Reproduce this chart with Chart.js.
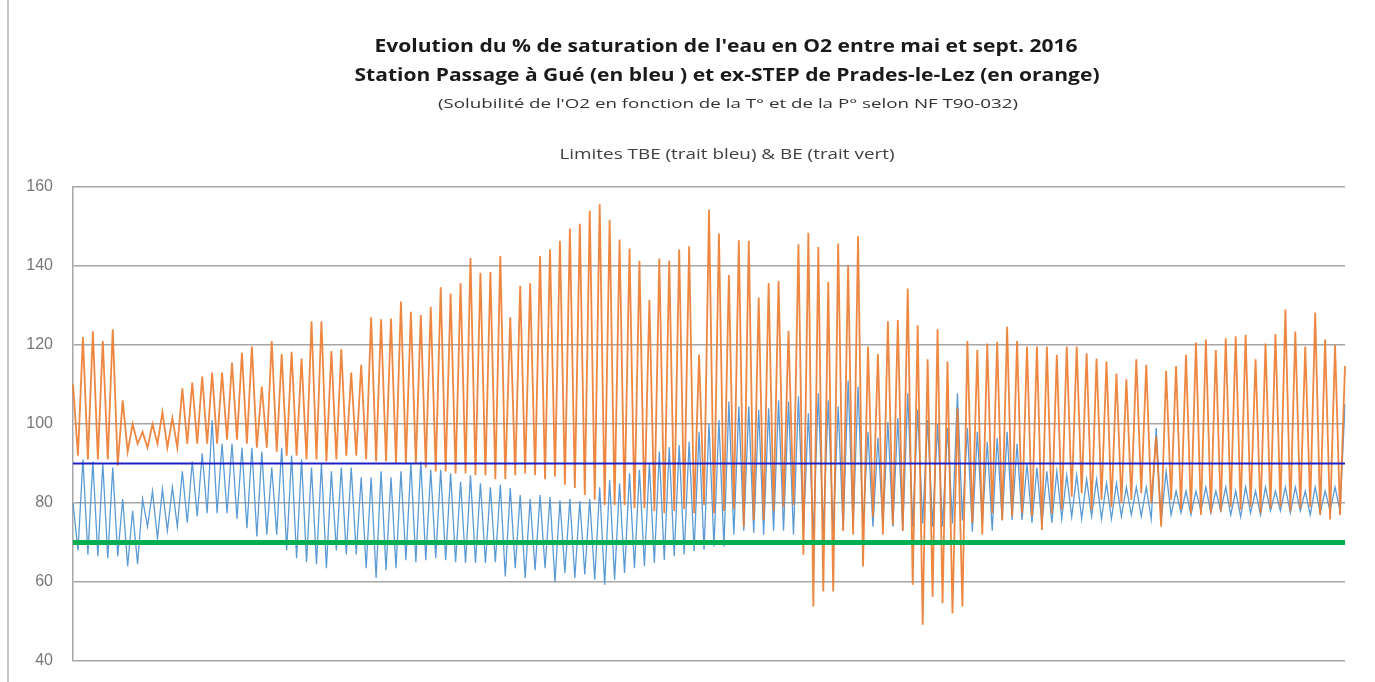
<!DOCTYPE html>
<html lang="fr">
<head>
<meta charset="utf-8">
<title>Saturation O2 - Passage à Gué / Prades-le-Lez</title>
<script src="https://cdn.jsdelivr.net/npm/chart.js@4.4.1/dist/chart.umd.min.js"></script>
<style>
  html, body { margin: 0; padding: 0; background: #fff; }
  #wrap { width: 1375px; height: 682px; position: relative; }
</style>
</head>
<body>
<div id="wrap"><canvas id="myChart1" width="1375" height="682"></canvas></div>
<script>
// valeurs : un creux (nuit) puis un pic (jour) par journée
const titreLignes = [
  'Evolution du % de saturation de l\'eau en O2 entre mai et sept. 2016',
  'Station Passage à Gué (en bleu ) et ex-STEP de Prades-le-Lez (en orange)',
  '(Solubilité de l\'O2 en fonction de la T° et de la P° selon NF T90-032)',
  'Limites TBE (trait bleu) & BE (trait vert)'
];
const yTicks = [40, 60, 80, 100, 120, 140, 160];
const limiteTBE = 90;
const limiteBE = 70;

const orangeDebut = 110;
const orangeCreux = [
  92, 91, 91, 91, 89.5, 93, 95, 94, 95, 94, 94, 95, 95, 95, 95, 96, 96,
  95, 94, 94, 93, 92, 92, 91, 91, 90.5, 91, 92, 92, 91, 90.5, 90.5, 90,
  90, 90, 89, 88, 88, 87.5, 87.5, 87, 87, 86, 86, 87, 87.5, 87, 86,
  86.7, 84.6, 83.8, 82, 80.8, 79.5, 79.5, 79.5, 78.7, 78.7, 77.9, 77.4, 78, 78.5, 77.4, 79.5,
  77.4, 78, 78.5, 74, 75.7, 75.7, 78, 79, 79.5, 66.9, 53.8, 57.6, 57.6, 73, 72,
  63.9, 76.6, 72, 74.5, 73, 59.3, 49.2, 56.3, 54.6, 52, 53.8, 75, 72, 77.4, 75.7, 76.6,
  77.4, 76.6, 73.2, 77.4, 78.3, 81.6, 82.5, 78.3, 80.8, 79, 80, 80.8, 82.5, 80, 74, 80.8,
  78.3, 77.4, 77, 77.4, 77.9, 79, 78.3, 79, 77.4, 78.7, 79, 77.9, 78.7, 79, 77, 75.8, 77
];
const orangePics = [
  122, 123.5, 121, 124, 106, 100, 98, 100, 103, 101.5, 109, 110.5, 112, 113, 113, 115.5, 118,
  119.6, 109.5, 121, 117.7, 118.3, 116.6, 126, 126, 118.5, 119, 113, 115, 127, 126.5, 126.7, 131,
  128.4, 127.6, 129.7, 134.6, 133, 135.6, 142, 138.3, 138.5, 142.5, 127, 135, 135.6, 142.5, 144.2,
  146.4, 149.5, 150.7, 154, 155.6, 151.7, 146.7, 144.4, 141.3, 131.4, 141.9, 141.3, 144.2, 145, 117.5, 154.3,
  148.2, 137.7, 146.5, 146.4, 132, 135.7, 136.2, 123.6, 145.5, 148.4, 144.8, 136, 145.7, 140.2, 147.5,
  119.6, 117.7, 126, 126.3, 134.3, 125, 116.4, 124, 115.8, 104, 121, 118.7, 120.4, 120.8, 124.6, 121,
  119.6, 119.6, 119.6, 117.5, 119.6, 119.6, 117.9, 116.6, 115.8, 112.8, 111.3, 116.4, 115, 96.8, 113.5, 114.7,
  117.5, 120.6, 121.4, 118.7, 121.7, 122.2, 122.6, 116.4, 120.4, 122.8, 129, 123.4, 119.6, 128.2, 121.4, 120, 114.7
];

const bleuDebut = 80;
const bleuCreux = [
  68, 67, 66.5, 66, 66.5, 64, 64.5, 74, 71, 73, 74, 75, 76.6, 77.4, 77.4, 77.4, 76,
  73.6, 71.5, 72, 72, 68, 66, 65, 64.5, 63.5, 68, 67, 67, 63.5, 61, 63, 63.5,
  65.5, 65, 65.5, 66, 65.5, 65, 64.8, 64.8, 64.8, 65, 61.4, 63.5, 61, 63, 63.5,
  60, 62.3, 61, 61.9, 60.6, 59.3, 60.6, 62.3, 63.5, 64, 64.8, 65.6, 66.5, 67, 67.8, 68.2,
  69, 69, 72, 73, 72.5, 72, 73, 73, 72, 73, 72, 73, 73, 73, 74,
  74, 74, 74.4, 74, 73, 74, 74.8, 74, 74, 74.8, 75.6, 72.7, 74.8, 73, 75.6, 75.7,
  75.7, 75, 74.5, 75, 76, 76.5, 76, 76.6, 76, 76, 76.6, 77, 76.6, 76, 75.5, 77,
  77.5, 77, 78, 77.5, 78, 77, 76.5, 77.5, 77, 78, 78, 77.5, 78, 77, 77.5, 78, 78
];
const bleuPics = [
  91, 90.5, 90, 89, 81, 78, 81, 83, 83.5, 84, 88, 90.5, 92.6, 101, 95, 95, 94,
  94, 93, 89, 94, 92, 91, 89, 90, 88, 89, 89, 86.5, 86.5, 88, 86.5, 88,
  90, 90.5, 88.4, 88.4, 87.5, 85.4, 87, 85, 84, 84.6, 83.8, 82, 81, 82, 81.5,
  80.7, 81, 80.5, 81, 84, 85.8, 85, 87.5, 88.4, 90, 93, 94.2, 94.7, 95.5, 98, 100,
  101, 105.7, 104.4, 104.4, 103.6, 104, 106, 105.7, 107, 102.7, 107.8, 106, 104.4, 111, 109.5,
  98, 96.5, 100.5, 101.5, 107.8, 103.6, 101, 100, 99, 107.8, 99, 98, 95.5, 96.5, 98, 95,
  90, 89, 88, 88, 87, 87, 86, 86, 85, 85, 84, 84, 84, 99, 88, 83,
  83, 83, 84, 83, 84, 83, 84, 83, 84, 83, 84, 84, 83, 84, 83, 84, 105
];

// une série = valeur de départ puis creux / pic pour chaque journée
function serieJournaliere(debut, creux, pics){
  const out = [debut];
  for(let i=0; i<pics.length; i++){
    out.push(creux[i]);
    out.push(pics[i]);
  }
  return out;
}

const orange = serieJournaliere(orangeDebut, orangeCreux, orangePics);
const bleu = serieJournaliere(bleuDebut, bleuCreux, bleuPics);

const labels = [];
for(let i=0; i<orange.length; i++){
  labels.push(i === 0 ? 'début' : 'J' + Math.ceil(i/2) + (i % 2 ? ' nuit' : ' jour'));
}

// texte étiré en largeur comme dans le graphique d'origine
function texteEtire(c, txt, x, y, font, largeur){
  c.font = font;
  const w = c.measureText(txt).width;
  c.save();
  c.translate(x, y);
  c.scale(largeur / w, 1);
  c.fillText(txt, 0, 0);
  c.restore();
}

const titrePlugin = {
  id: 'titreExcel',
  afterDraw(chart){
    const c = chart.ctx;
    c.save();
    c.textAlign = 'center';
    c.textBaseline = 'middle';
    c.fillStyle = '#1a1a1a';
    texteEtire(c, titreLignes[0], 726, 47, 'bold 18px "Open Sans"', 703);
    texteEtire(c, titreLignes[1], 727, 76, 'bold 18px "Open Sans"', 745);
    c.fillStyle = '#333';
    texteEtire(c, titreLignes[2], 728, 104, '13.5px "Open Sans"', 580);
    c.fillStyle = '#404040';
    texteEtire(c, titreLignes[3], 727, 155, '14px "Open Sans"', 335);
    // bord gauche du cadre du graphique
    c.strokeStyle = '#b0b0b0';
    c.lineWidth = 1.5;
    c.beginPath();
    c.moveTo(8, 0);
    c.lineTo(8, 682);
    c.stroke();
    c.restore();
  }
};

const ctx = document.getElementById('myChart1');

new Chart(ctx, {
  type: 'line',
  data: {
    labels: labels,
    datasets: [
      {
        label: 'Limite BE',
        data: labels.map(() => limiteBE),
        borderColor: '#00B050',
        borderWidth: 5,
        pointRadius: 0,
        order: 0
      },
      {
        label: 'Limite TBE',
        data: labels.map(() => limiteTBE),
        borderColor: '#1F1FC8',
        borderWidth: 2,
        pointRadius: 0,
        order: 1
      },
      {
        label: 'ex-STEP de Prades-le-Lez',
        data: orange,
        borderColor: 'rgba(237,125,49,0.92)',
        borderWidth: 1.8,
        pointRadius: 0,
        tension: 0,
        order: 2
      },
      {
        label: 'Passage à Gué',
        data: bleu,
        borderColor: '#5B9BD5',
        borderWidth: 1.3,
        pointRadius: 0,
        tension: 0,
        order: 3
      }
    ]
  },
  plugins: [titrePlugin],
  options: {
    responsive: false,
    animation: false,
    layout: { padding: { top: 187, left: 10, right: 30, bottom: 21 } },
    plugins: {
      legend: { display: false },
      title: { display: false },
      tooltip: { enabled: false }
    },
    scales: {
      x: { display: false },
      y: {
        min: 40,
        max: 160,
        afterFit(scale){ scale.width = 63; },
        afterBuildTicks(scale){ scale.ticks = yTicks.map(v => ({ value: v })); },
        border: { display: true, color: '#A6A6A6', width: 1.5 },
        grid: { color: '#A6A6A6', lineWidth: 1.5, drawTicks: true, tickLength: 17, tickColor: 'rgba(0,0,0,0)' },
        ticks: {
          padding: 3,
          color: '#777',
          font: { family: 'Liberation Sans', size: 16 }
        }
      }
    }
  }
});
</script>
</body>
</html>
